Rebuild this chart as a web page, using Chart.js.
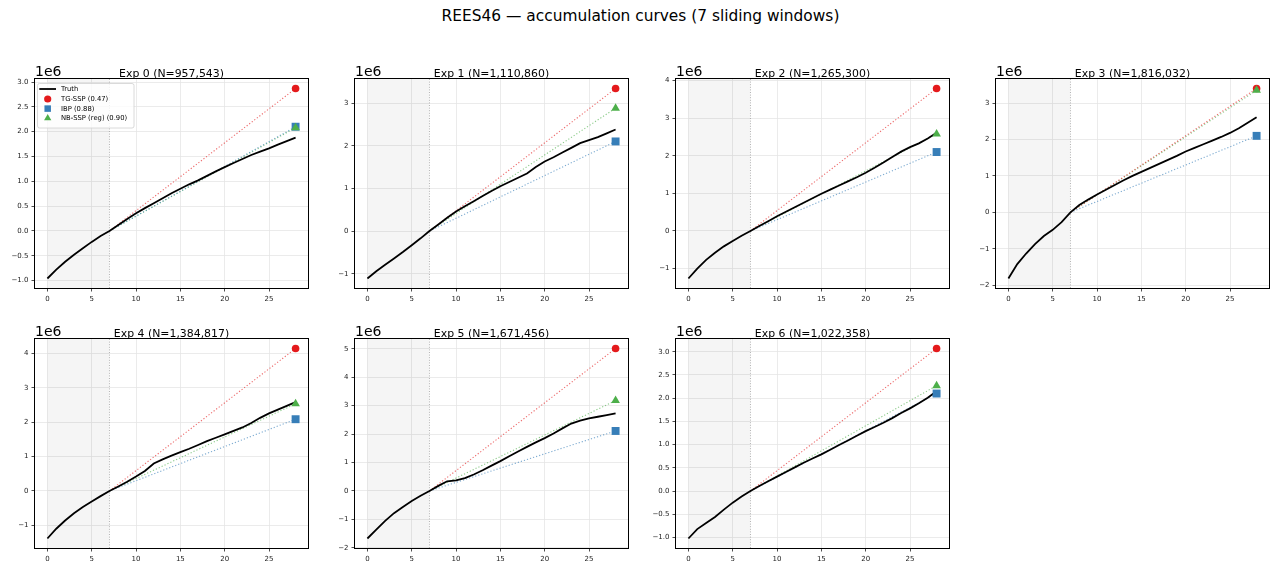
<!DOCTYPE html>
<html><head><meta charset="utf-8">
<script src="https://cdn.jsdelivr.net/npm/chart.js@4.4.1/dist/chart.umd.min.js"></script>
<style>
html,body{margin:0;padding:0;background:#fff;width:1281px;height:569px;overflow:hidden;}
#title{position:absolute;left:0;width:1281px;top:7px;line-height:18px;text-align:center;font-family:"DejaVu Sans";font-size:15.4px;color:#000;}
canvas{position:absolute;}
</style></head><body>
<div id="title">REES46 — accumulation curves (7 sliding windows)</div>
<script>
// ---------- data ----------
const steps = [0,1,2,3,4,5,6,7,8,9,10,11,12,13,14,15,16,17,18,19,20,21,22,23,24,25,26,27,28];
const expTitles = ["Exp 0 (N=957,543)","Exp 1 (N=1,110,860)","Exp 2 (N=1,265,300)","Exp 3 (N=1,816,032)","Exp 4 (N=1,384,817)","Exp 5 (N=1,671,456)","Exp 6 (N=1,022,358)"];
const truth0 = [-957543,-780000,-620000,-480000,-350000,-220000,-100000,0,120000,240000,355000,460000,560000,660000,760000,850000,940000,1020000,1110000,1200000,1285000,1370000,1450000,1530000,1600000,1665000,1740000,1810000,1880000];
const truth1 = [-1110860,-940000,-790000,-640000,-490000,-330000,-170000,0,155000,310000,460000,580000,700000,820000,940000,1050000,1150000,1250000,1350000,1500000,1630000,1730000,1840000,1950000,2060000,2130000,2200000,2290000,2380000];
const truth2 = [-1265300,-1000000,-770000,-580000,-410000,-270000,-130000,0,130000,260000,390000,510000,630000,750000,870000,990000,1100000,1210000,1320000,1430000,1550000,1680000,1820000,1970000,2110000,2230000,2330000,2460000,2610000];
const truth3 = [-1816032,-1420000,-1130000,-870000,-650000,-480000,-270000,0,200000,350000,490000,620000,750000,880000,1000000,1110000,1220000,1330000,1440000,1550000,1670000,1770000,1870000,1970000,2070000,2180000,2310000,2460000,2610000];
const truth4 = [-1384817,-1100000,-860000,-650000,-470000,-310000,-150000,0,130000,270000,420000,580000,800000,920000,1030000,1130000,1230000,1340000,1450000,1550000,1650000,1750000,1850000,1980000,2130000,2260000,2370000,2480000,2590000];
const truth5 = [-1671456,-1360000,-1050000,-780000,-560000,-350000,-170000,0,180000,340000,370000,450000,580000,730000,890000,1050000,1220000,1390000,1550000,1710000,1860000,2020000,2200000,2370000,2470000,2550000,2610000,2670000,2730000];
const truth6 = [-1022358,-820000,-690000,-560000,-400000,-250000,-120000,0,110000,210000,310000,410000,510000,610000,700000,790000,890000,990000,1090000,1190000,1290000,1380000,1470000,1570000,1680000,1780000,1890000,2010000,2150000];
const tgSSP = [2870000,3340000,3790000,3400000,4150000,5010000,3070000];
const ibp   = [2100000,2100000,2100000,2100000,2090000,2110000,2100000];
const nbSSP = [2080000,2880000,2580000,3350000,2540000,3180000,2270000];
const legendLabels = ["Truth","TG-SSP (0.47)","IBP (0.88)","NB-SSP (reg) (0.90)"];
const yTickStep = [500000,1000000,1000000,1000000,1000000,1000000,500000];
const xTickStep = 5;
const trainStart = 0, trainEnd = 7;
const offsetLabel = "1e6";

// ---------- layout / style ----------
const truths = [truth0,truth1,truth2,truth3,truth4,truth5,truth6];
const colLeft = [35,355,676,996], rowTop = [79,339];
const PW = 273, PH = 209, YW = 35, TOPPAD = 30, XH = 20, RPAD = 6;
const FONT = "DejaVu Sans";
const COL = {tg:'#e41a1c', ibp:'#377eb8', nb:'#4daf4a'};
const rgba = (hex,a)=>{const n=parseInt(hex.slice(1),16);return `rgba(${n>>16},${(n>>8)&255},${n&255},${a})`;};

function fmt(v, step){
  const m = v/1e6;
  let s = step < 1e6 ? m.toFixed(1) : m.toFixed(0);
  if (parseFloat(s) === 0) s = s.replace('-','');
  return s.replace('-','\u2212');
}
function stepTicks(scale, step){
  const out = [];
  const k0 = Math.ceil(scale.min/step - 1e-9), k1 = Math.floor(scale.max/step + 1e-9);
  for (let k=k0;k<=k1;k++) out.push({value:k*step});
  scale.ticks = out;
}

const decorPlugin = {
  id:'decor',
  beforeDatasetsDraw(chart){
    const {ctx, chartArea:ca, scales:{x}} = chart;
    const x0 = x.getPixelForValue(trainStart), x1 = x.getPixelForValue(trainEnd);
    ctx.save();
    ctx.fillStyle = 'rgba(0,0,0,0.04)';
    ctx.fillRect(x0, ca.top, x1-x0, ca.bottom-ca.top);
    ctx.strokeStyle = '#a0a0a0'; ctx.lineWidth = 0.8; ctx.setLineDash([1,1.6]);
    ctx.beginPath(); ctx.moveTo(x1, ca.top); ctx.lineTo(x1, ca.bottom); ctx.stroke();
    ctx.restore();
  },
  afterDraw(chart){
    const {ctx, chartArea:ca} = chart;
    const o = chart.options.plugins.decor;
    ctx.save();
    ctx.strokeStyle = '#000'; ctx.lineWidth = 1;
    ctx.strokeRect(ca.left-0.5, ca.top-0.5, ca.right-ca.left+1, ca.bottom-ca.top+1);
    ctx.fillStyle = '#000';
    ctx.textBaseline = 'alphabetic';
    ctx.font = `14px "${FONT}"`; ctx.textAlign = 'left';
    ctx.fillText(offsetLabel, ca.left, ca.top-3);
    ctx.font = `10.9px "${FONT}"`; ctx.textAlign = 'center';
    ctx.fillText(o.title, (ca.left+ca.right)/2, ca.top-2.5);
    if (o.legend){
      const bx = ca.left+2.5, by = ca.top+4.5, bw = 96.5, bh = 44.5;
      ctx.fillStyle = 'rgba(255,255,255,0.8)'; ctx.strokeStyle = '#d0d0d0'; ctx.lineWidth = 0.8;
      ctx.beginPath(); ctx.roundRect(bx, by, bw, bh, 2); ctx.fill(); ctx.stroke();
      const rows = [10, 20, 29.6, 39.2].map(d=>ca.top+d);
      ctx.strokeStyle = '#000'; ctx.lineWidth = 1.8;
      ctx.beginPath(); ctx.moveTo(ca.left+4.3, rows[0]); ctx.lineTo(ca.left+21, rows[0]); ctx.stroke();
      const mk = [['circle',COL.tg,3.6],['rect',COL.ibp,4.6],['triangle',COL.nb,4.2]];
      mk.forEach((m,k)=>{
        ctx.fillStyle = m[1]; ctx.strokeStyle = m[1]; ctx.lineWidth = 0.01;
        Chart.helpers.drawPoint(ctx, {pointStyle:m[0], radius:m[2], borderWidth:0}, ca.left+12.7, rows[k+1]);
      });
      ctx.fillStyle = '#000'; ctx.font = `6.8px "${FONT}"`; ctx.textAlign = 'left'; ctx.textBaseline = 'middle';
      legendLabels.forEach((t,k)=>ctx.fillText(t, ca.left+26, rows[k]+0.3));
    }
    ctx.restore();
  }
};

function makeChart(i){
  const r = Math.floor(i/4), c = i%4;
  const cv = document.createElement('canvas');
  const W = YW+PW+RPAD, H = TOPPAD+PH+XH;
  cv.width = W; cv.height = H;
  cv.style.left = (colLeft[c]-YW)+'px'; cv.style.top = (rowTop[r]-TOPPAD)+'px';
  cv.style.width = W+'px'; cv.style.height = H+'px';
  document.body.appendChild(cv);

  const truth = truths[i];
  const xs = steps;
  const allY = truth.concat([tgSSP[i], ibp[i], nbSSP[i]]);
  const ymin = Math.min(...allY), ymax = Math.max(...allY);
  const ypad = 0.05*(ymax-ymin);
  const xmin = xs[0], xmax = xs[xs.length-1], xpad = 0.05*(xmax-xmin);
  const xEnd = xs[xs.length-1];
  const anchor = {x: xs[trainEnd], y: truth[trainEnd]};

  const guide = (val,col,ord)=>({type:'scatter', showLine:true, data:[anchor,{x:xEnd,y:val}],
     borderColor:rgba(col,0.65), borderWidth:1.1, borderDash:[1.2,2], pointRadius:0, order:ord});
  const marker = (val,col,style,rad,ord,label)=>({type:'scatter', label, data:[{x:xEnd,y:val}],
     pointStyle:style, pointRadius:rad, backgroundColor:col, borderColor:col, pointBorderWidth:0, order:ord});

  const step = yTickStep[i];
  const tickFont = {family:FONT, size:7};
  new Chart(cv, {
    type:'scatter',
    data:{datasets:[
      marker(nbSSP[i], COL.nb, 'triangle', 5, 0, legendLabels[3]),
      marker(ibp[i], COL.ibp, 'rect', 5.6, 1, legendLabels[2]),
      marker(tgSSP[i], COL.tg, 'circle', 3.8, 2, legendLabels[1]),
      {type:'scatter', label:legendLabels[0], showLine:true, data:xs.map((x,k)=>({x, y:truth[k]})),
        borderColor:'#000', borderWidth:1.8, pointRadius:0, order:3},
      guide(tgSSP[i], COL.tg, 4),
      guide(ibp[i], COL.ibp, 5),
      guide(nbSSP[i], COL.nb, 6)
    ]},
    options:{
      responsive:false, animation:false, devicePixelRatio:1, events:[],
      layout:{padding:{top:TOPPAD, right:RPAD, left:0, bottom:0}},
      plugins:{legend:{display:false}, tooltip:{enabled:false}, title:{display:false},
        decor:{title:expTitles[i], legend:i===0}},
      scales:{
        x:{type:'linear', min:xmin-xpad, max:xmax+xpad,
          afterBuildTicks:s=>stepTicks(s, xTickStep),
          afterFit:s=>{s.height=XH;},
          ticks:{autoSkip:false, maxRotation:0, padding:3,
            font:tickFont, color:'#222', callback:v=>String(Math.round(v))},
          grid:{color:'#e6e6e6', lineWidth:0.8, tickColor:'#222', tickLength:3.5, tickWidth:0.8},
          border:{display:false}},
        y:{type:'linear', min:ymin-ypad, max:ymax+ypad,
          afterBuildTicks:s=>stepTicks(s, step),
          afterFit:s=>{s.width=YW;},
          ticks:{autoSkip:false, padding:3,
            font:tickFont, color:'#222', callback:v=>fmt(v,step)},
          grid:{color:'#e6e6e6', lineWidth:0.8, tickColor:'#222', tickLength:3.5, tickWidth:0.8},
          border:{display:false}}
      }
    },
    plugins:[decorPlugin]
  });
}
for (let i=0;i<7;i++) makeChart(i);
</script>
</body></html>
